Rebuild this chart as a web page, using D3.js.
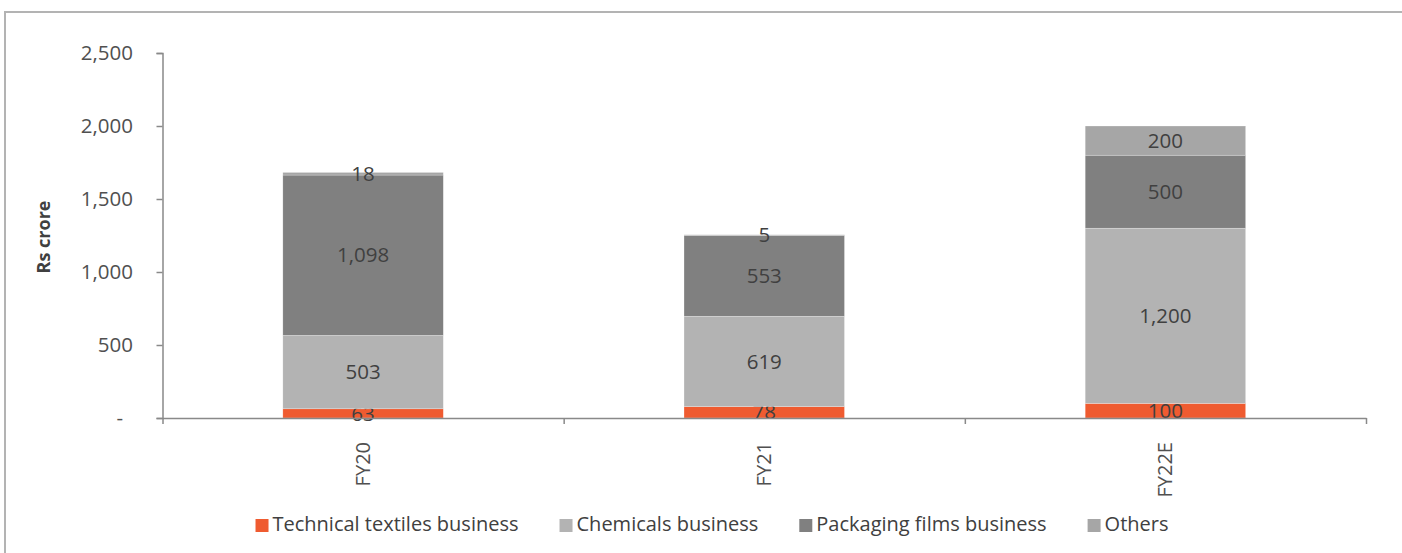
<!DOCTYPE html>
<html>
<head>
<meta charset="utf-8">
<script src="https://cdn.jsdelivr.net/npm/d3@7"></script>
<style>
  html, body { margin: 0; padding: 0; background: #fff; }
  svg { display: block; }
  text { font-family: "Open Sans", "Noto Sans", sans-serif; }
</style>
</head>
<body>
<svg id="chart" width="1402" height="553"></svg>
<script>
// Revenue mix by business segment (Rs crore)
const categories = ["FY20", "FY21", "FY22E"];
const technicalTextiles = [63, 78, 100];
const chemicals = [503, 619, 1200];
const packagingFilms = [1098, 553, 500];
const others = [18, 5, 200];
const seriesNames = ["Technical textiles business", "Chemicals business", "Packaging films business", "Others"];
const seriesColors = ["#EF5B30", "#B3B3B3", "#808080", "#A6A6A6"];
const yTicks = [0, 500, 1000, 1500, 2000, 2500];

const seriesValues = [technicalTextiles, chemicals, packagingFilms, others];
const rows = categories.map((c, i) => {
  const r = { category: c };
  seriesNames.forEach((s, k) => { r[s] = seriesValues[k][i]; });
  return r;
});
const stacked = d3.stack().keys(seriesNames)(rows);

const svg = d3.select("#chart");

// outer frame
svg.append("rect")
  .attr("x", 5).attr("y", 12).attr("width", 1400).attr("height", 560)
  .attr("fill", "none").attr("stroke", "#b3b3b3").attr("stroke-width", 2);

const x = d3.scaleBand().domain(categories).range([162.5, 1366]).paddingInner(0.6).paddingOuter(0.3);
const y = d3.scaleLinear().domain([0, 2500]).range([418, 53]);
const color = d3.scaleOrdinal().domain(seriesNames).range(seriesColors);

// bars
const layer = svg.append("g").selectAll("g").data(stacked).join("g")
  .attr("fill", d => color(d.key));
layer.selectAll("rect").data(d => d).join("rect")
  .attr("x", d => x(d.data.category))
  .attr("width", x.bandwidth())
  .attr("y", d => y(d[1]))
  .attr("height", d => y(d[0]) - y(d[1]))
  .attr("stroke", "#ffffff").attr("stroke-width", 0.5).attr("stroke-opacity", 0.5);

// y axis
const yAxis = svg.append("g")
  .attr("transform", "translate(162.5,0)")
  .call(d3.axisLeft(y).tickValues(yTicks).tickSize(6).tickPadding(23.5)
    .tickFormat(v => v === 0 ? "-" : d3.format(",")(v)));
yAxis.select(".domain").attr("stroke", "#898989").attr("stroke-width", 1.5);
yAxis.selectAll(".tick line").attr("stroke", "#898989").attr("stroke-width", 1.5);
yAxis.selectAll(".tick text")
  .attr("fill", "#505050").style("font-size", "20.5px").style("font-family", "'Open Sans', sans-serif")
  .attr("dx", v => v === 0 ? -10 : 0);

// x axis: tick marks on category boundaries
const boundary = d3.scaleLinear().domain([0, categories.length]).range(x.range());
const xAxis = svg.append("g")
  .attr("transform", "translate(0,418)")
  .call(d3.axisBottom(boundary).tickValues(d3.range(categories.length + 1)).tickSize(6).tickSizeOuter(0).tickFormat(""));
xAxis.select(".domain").attr("stroke", "#898989").attr("stroke-width", 1.5);
xAxis.selectAll(".tick line").attr("stroke", "#898989").attr("stroke-width", 1.5);

// rotated category labels
svg.append("g").selectAll("text").data(categories).join("text")
  .attr("transform", c => `translate(${x(c) + x.bandwidth() / 2},442) rotate(-90)`)
  .attr("text-anchor", "end")
  .attr("dy", "0.35em")
  .attr("fill", "#505050")
  .style("font-size", "20px")
  .text(c => c);

// y axis title
svg.append("text")
  .attr("transform", "translate(44,237) rotate(-90)")
  .attr("text-anchor", "middle")
  .attr("dy", "0.35em")
  .attr("fill", "#404040")
  .style("font-size", "18px").style("font-weight", "bold")
  .text("Rs crore");

// data labels centred in each segment
layer.selectAll("text").data(d => d).join("text")
  .attr("x", d => x(d.data.category) + x.bandwidth() / 2)
  .attr("y", d => (y(d[0]) + y(d[1])) / 2)
  .attr("dy", "0.35em")
  .attr("text-anchor", "middle")
  .attr("fill", "#404040")
  .style("font-size", "20.5px")
  .text(d => d3.format(",")(d[1] - d[0]));

// legend
const legend = svg.append("g");
const items = legend.selectAll("g").data(seriesNames).join("g");
items.append("rect").attr("width", 13).attr("height", 13).attr("y", -12)
  .attr("fill", d => color(d));
items.append("text").attr("x", 17).attr("y", 0)
  .attr("fill", "#404040").style("font-size", "20px")
  .text(d => d);
let cursor = 0;
items.each(function () {
  const w = this.querySelector("text").getComputedTextLength() + 17;
  d3.select(this).attr("data-off", cursor);
  cursor += w + 41;
});
const totalW = cursor - 41;
const startX = 712 - totalW / 2;
items.attr("transform", function () {
  return `translate(${startX + (+this.getAttribute("data-off"))},531)`;
});
</script>
</body>
</html>
